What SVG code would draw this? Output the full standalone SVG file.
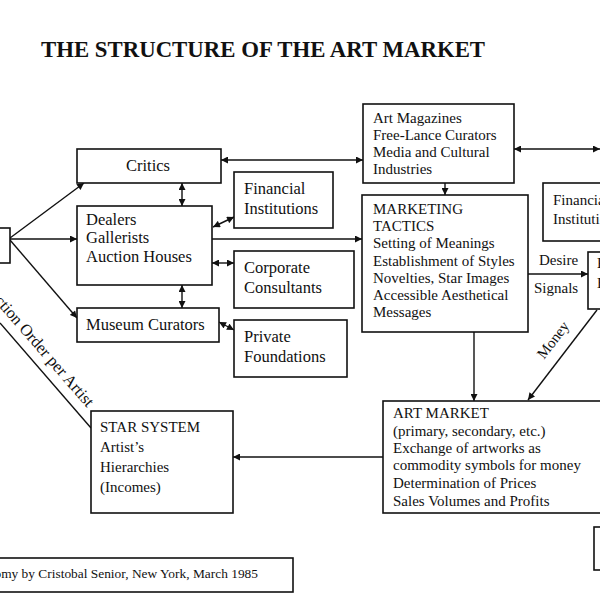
<svg xmlns="http://www.w3.org/2000/svg" width="600" height="600" viewBox="0 0 600 600">
<defs>
<style>
.box{fill:#fff;stroke:#111;stroke-width:1.6}
.t{font-family:"Liberation Serif","Times New Roman",serif;font-size:15px;fill:#111}
.tl{font-family:"Liberation Serif","Times New Roman",serif;font-size:16.5px;fill:#111}
.ln{fill:none;stroke:#111;stroke-width:1.4}
</style>
<marker id="ah" viewBox="0 0 10 10" refX="10" refY="5" markerWidth="8" markerHeight="7" markerUnits="userSpaceOnUse" orient="auto-start-reverse">
<path d="M0,0 L10,5 L0,10 z" fill="#111"/>
</marker>
</defs>
<rect width="600" height="600" fill="#fff"/>
<text x="41" y="57" font-family="Liberation Serif,'Times New Roman',serif" font-size="22.8" font-weight="bold" fill="#111">THE STRUCTURE OF THE ART MARKET</text>

<g id="connectors">
<line class="ln" x1="10" y1="238" x2="84" y2="183" marker-end="url(#ah)"/>
<line class="ln" x1="10" y1="239" x2="77" y2="239" marker-end="url(#ah)"/>
<line class="ln" x1="10" y1="240" x2="77" y2="318" marker-end="url(#ah)"/>
<line class="ln" x1="182" y1="183" x2="182" y2="206" marker-start="url(#ah)" marker-end="url(#ah)"/>
<line class="ln" x1="182" y1="285" x2="182" y2="308" marker-start="url(#ah)" marker-end="url(#ah)"/>
<line class="ln" x1="213" y1="227" x2="234" y2="217" marker-start="url(#ah)" marker-end="url(#ah)"/>
<line class="ln" x1="212" y1="239" x2="362" y2="239" marker-end="url(#ah)"/>
<line class="ln" x1="221" y1="160" x2="363" y2="160" marker-start="url(#ah)" marker-end="url(#ah)"/>
<line class="ln" x1="212" y1="263" x2="234" y2="263" marker-start="url(#ah)" marker-end="url(#ah)"/>
<line class="ln" x1="219" y1="322" x2="234" y2="330" marker-start="url(#ah)" marker-end="url(#ah)"/>
<line class="ln" x1="445" y1="172" x2="445" y2="195" marker-end="url(#ah)"/>
<line class="ln" x1="514" y1="149" x2="600" y2="149" marker-start="url(#ah)" marker-end="url(#ah)"/>
<line class="ln" x1="528" y1="274" x2="588" y2="274" marker-end="url(#ah)"/>
<line class="ln" x1="597" y1="310" x2="528" y2="400" marker-end="url(#ah)"/>
<line class="ln" x1="474" y1="332" x2="474" y2="401" marker-end="url(#ah)"/>
<line class="ln" x1="383" y1="457" x2="233" y2="457" marker-end="url(#ah)"/>
<line class="ln" x1="0" y1="323" x2="91" y2="428"/>
<text class="t" x="539" y="265">Desire</text>
<text class="t" x="534" y="293">Signals</text>
<text class="t" transform="translate(557,343) rotate(-52.5)" text-anchor="middle">Money</text>
<text class="tl" transform="translate(87,408) rotate(49)" text-anchor="end">Selection Order per Artist</text>
</g>

<g id="n-left"><rect class="box" x="-10" y="228" width="20" height="35"/></g>
<g id="n-critics"><rect class="box" x="77" y="149" width="144" height="34"/><text class="tl" x="148" y="171" text-anchor="middle">Critics</text></g>
<g id="n-dealers"><rect class="box" x="77" y="206" width="135" height="79"/>
<text class="tl" x="86" y="225">Dealers</text><text class="tl" x="86" y="243">Gallerists</text><text class="tl" x="86" y="262">Auction Houses</text></g>
<g id="n-museum"><rect class="box" x="77" y="308" width="142" height="34"/><text class="tl" x="86" y="330">Museum Curators</text></g>
<g id="n-fin1"><rect class="box" x="234" y="172" width="99" height="56"/><text class="tl" x="244" y="194">Financial</text><text class="tl" x="244" y="214">Institutions</text></g>
<g id="n-corp"><rect class="box" x="234" y="251" width="120" height="57"/><text class="tl" x="244" y="273">Corporate</text><text class="tl" x="244" y="293">Consultants</text></g>
<g id="n-priv"><rect class="box" x="234" y="320" width="113" height="57"/><text class="tl" x="244" y="342">Private</text><text class="tl" x="244" y="362">Foundations</text></g>
<g id="n-mag"><rect class="box" x="363" y="104" width="151" height="79"/>
<text class="t" x="373" y="123">Art Magazines</text><text class="t" x="373" y="140">Free-Lance Curators</text><text class="t" x="373" y="157">Media and Cultural</text><text class="t" x="373" y="174">Industries</text></g>
<g id="n-mkt"><rect class="box" x="362" y="195" width="166" height="137"/>
<text class="t" x="373" y="214">MARKETING</text><text class="t" x="373" y="231">TACTICS</text><text class="t" x="373" y="248">Setting of Meanings</text><text class="t" x="373" y="266">Establishment of Styles</text><text class="t" x="373" y="283">Novelties, Star Images</text><text class="t" x="373" y="300">Accessible Aesthetical</text><text class="t" x="373" y="317">Messages</text></g>
<g id="n-fin2"><rect class="box" x="543" y="183" width="80" height="58"/><text class="t" x="553" y="205">Financial</text><text class="t" x="553" y="224">Institutions</text></g>
<g id="n-buyers"><rect class="box" x="588" y="252" width="40" height="57"/><text class="t" x="597" y="268">Private</text><text class="t" x="597" y="288">Buyers</text></g>
<g id="n-market"><rect class="box" x="383" y="401" width="240" height="112"/>
<text class="t" x="393" y="418">ART MARKET</text><text class="t" x="393" y="436">(primary, secondary, etc.)</text><text class="t" x="393" y="453">Exchange of artworks as</text><text class="t" x="393" y="470">commodity symbols for money</text><text class="t" x="393" y="488">Determination of Prices</text><text class="t" x="393" y="506">Sales Volumes and Profits</text></g>
<g id="n-star"><rect class="box" x="91" y="411" width="142" height="102"/>
<text class="t" x="100" y="432">STAR SYSTEM</text><text class="t" x="100" y="452">Artist’s</text><text class="t" x="100" y="472">Hierarchies</text><text class="t" x="100" y="492">(Incomes)</text></g>
<g id="n-br"><rect class="box" x="594" y="527" width="30" height="43"/></g>
<g id="n-footer"><rect class="box" x="-10" y="558" width="303" height="34"/><text class="t" x="258" y="578" style="font-size:13.4px" text-anchor="end">Art Market Economy by Cristobal Senior, New York, March 1985</text></g>
</svg>
